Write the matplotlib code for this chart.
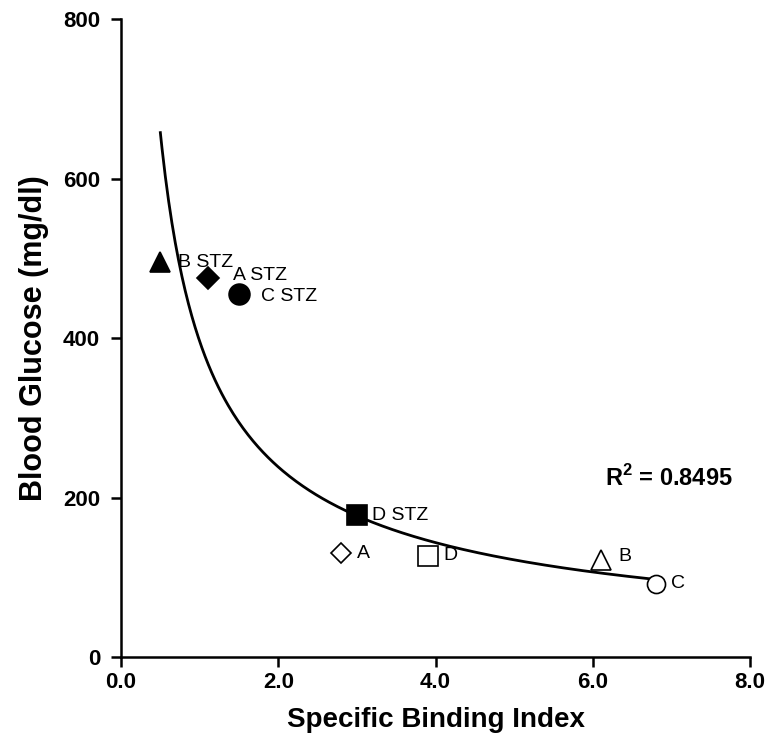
import numpy as np
import matplotlib
matplotlib.use("Agg")
import matplotlib.pyplot as plt

plt.rcParams['font.family'] = ['Liberation Sans', 'DejaVu Sans']

# data
sbi = [0.5, 1.1, 1.5, 3.0, 2.8, 3.9, 6.1, 6.8]
glucose = [495, 475, 455, 178, 130, 127, 122, 92]
names = ["B STZ", "A STZ", "C STZ", "D STZ", "A", "D", "B", "C"]
markers = ["^", "D", "o", "s", "D", "s", "^", "o"]
filled = [True, True, True, True, False, False, False, False]
msizes = [15, 11, 15, 14, 10, 14, 15, 13]
# label offsets in points from the marker
offsets = [(13, 0), (18, 2), (16, -2), (11, 0), (11, 0), (11, 0), (13, 2), (11, 0)]

# power trendline fitted on log-log
b, lna = np.polyfit(np.log(sbi), np.log(glucose), 1)
xfit = np.linspace(min(sbi), max(sbi), 300)
yfit = np.exp(lna) * xfit ** b

fig = plt.figure(figsize=(7.68, 7.37), dpi=100)
ax = fig.add_axes([0.1576, 0.1085, 0.819, 0.8657])

ax.plot(xfit, yfit, color='black', lw=2, zorder=2)

for x, y, n, m, f, ms, off in zip(sbi, glucose, names, markers, filled, msizes, offsets):
    ax.plot(x, y, marker=m, ms=ms, mec='black', mew=1.2,
            mfc='black' if f else 'white', ls='none', zorder=3)
    ax.annotate(n, (x, y), xytext=off, textcoords='offset points',
                ha='left', va='center', fontsize=14)

ax.text(6.15, 225, r"R$^\mathregular{2}$ = 0.8495", fontsize=17, fontweight='bold',
        ha='left', va='center')

ax.set_xlim(0, 8)
ax.set_ylim(0, 800)
ax.set_xticks([0, 2, 4, 6, 8])
ax.set_xticklabels(["0.0", "2.0", "4.0", "6.0", "8.0"])
ax.set_yticks([0, 200, 400, 600, 800])
for s in ['top', 'right']:
    ax.spines[s].set_visible(False)
for s in ['left', 'bottom']:
    ax.spines[s].set_linewidth(1.8)
ax.tick_params(direction='out', length=7, width=1.8, labelsize=16, pad=4)
ax.tick_params(axis='y', pad=8)
for lab in ax.get_xticklabels() + ax.get_yticklabels():
    lab.set_fontweight('bold')

ax.set_xlabel("Specific Binding Index", fontsize=20, fontweight='bold', labelpad=10)
ax.set_ylabel("Blood Glucose (mg/dl)", fontsize=22, fontweight='bold', labelpad=10)

fig.savefig("out.png", dpi=100)
